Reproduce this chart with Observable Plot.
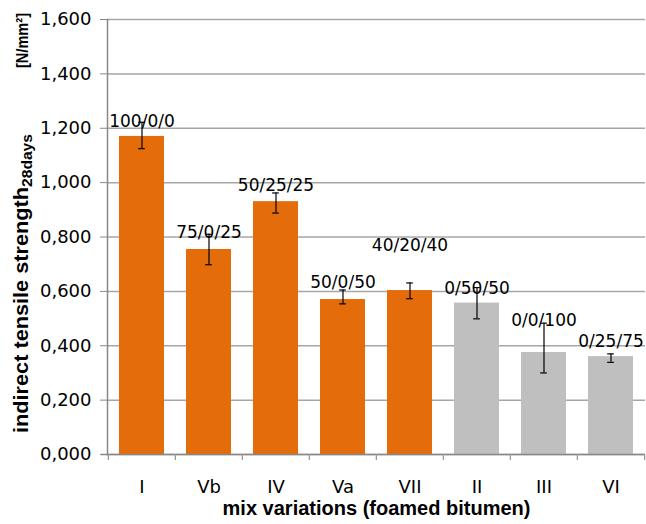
<!DOCTYPE html>
<html><head><meta charset="utf-8">
<script src="https://cdn.jsdelivr.net/npm/d3@7"></script>
<script src="https://cdn.jsdelivr.net/npm/@observablehq/plot@0.6"></script>
<style>body{margin:0;background:#fff} #chart{width:646px;height:524px}</style>
</head><body><div id="chart"></div>
<script>
const categories = ["I","Vb","IV","Va","VII","II","III","VI"];
const strength = [1.170,0.754,0.930,0.570,0.603,0.557,0.375,0.360];
const errLow  = [1.125,0.698,0.888,0.554,0.573,0.499,0.300,0.339];
const errHigh = [1.222,0.810,0.962,0.605,0.631,0.614,0.483,0.370];
const mixLabels = ["100/0/0","75/0/25","50/25/25","50/0/50","40/20/40","0/50/50","0/0/100","0/25/75"];
const labelY = [1.225,0.817,0.991,0.633,0.769,0.612,0.494,0.416];
const group = ["with","with","with","with","with","without","without","without"];
const yTicks = [0,0.2,0.4,0.6,0.8,1.0,1.2,1.4,1.6];
const xTitle = "mix variations (foamed bitumen)";

const rows = categories.map((c,i)=>({cat:c, value:strength[i], lo:errLow[i], hi:errHigh[i], label:mixLabels[i], ly:labelY[i], g:group[i]}));

const W = 646, H = 524, ML = 107, MR = 1, MT = 19, MB = 70;
const padIn = 0.326, padOut = padIn/2;
const step = (W - ML - MR) / categories.length;
const bw = step * (1 - padIn);
const capInset = (bw - 7) / 2;
const fmt = d => d3.format(".3f")(d).replace(".", ",");

const chart = Plot.plot({
  width: W, height: H, marginLeft: ML, marginRight: MR, marginTop: MT, marginBottom: MB,
  style: {fontFamily: "DejaVu Sans", fontSize: "17px", background: "white", color: "black"},
  x: {domain: categories, paddingInner: padIn, paddingOuter: padOut},
  y: {domain: [0, 1.6]},
  color: {domain: ["with","without"], range: ["#E46C0A","#BFBFBF"]},
  marks: [
    Plot.gridY(yTicks, {stroke: "#a6a6a6", strokeOpacity: 1, strokeWidth: 1.5}),
    Plot.barY(rows, {x: "cat", y: "value", fill: "g"}),
    Plot.ruleX(rows, {x: "cat", y1: "lo", y2: "hi", stroke: "black", strokeWidth: 1.2}),
    Plot.tickY(rows, {x: "cat", y: "lo", stroke: "black", strokeWidth: 1.2, insetLeft: capInset, insetRight: capInset}),
    Plot.tickY(rows, {x: "cat", y: "hi", stroke: "black", strokeWidth: 1.2, insetLeft: capInset, insetRight: capInset}),
    Plot.text(rows, {x: "cat", y: "ly", text: "label", fontSize: 17, fill: "black"}),
    Plot.axisY({ticks: yTicks, tickFormat: fmt, tickSize: 7, tickPadding: 9, fontSize: 18, stroke: "#888", fill: "black", label: null}),
    Plot.axisX({tickSize: 0, tickPadding: 26, fontSize: 18, fill: "black", label: null}),
    Plot.ruleY([0], {stroke: "#888", strokeWidth: 1.5, insetLeft: -6}),
    Plot.ruleX(categories, {x: d => d, y1: () => 0, y2: () => 0, dx: -step/2, insetBottom: -6, stroke: "#999", strokeWidth: 1.3}),
    Plot.ruleX(categories.slice(-1), {x: d => d, y1: () => 0, y2: () => 0, dx: step/2, insetBottom: -6, stroke: "#999", strokeWidth: 1.3}),
    Plot.frame({anchor: "left", stroke: "#888", strokeWidth: 1.5}),
    Plot.text([xTitle], {frameAnchor: "bottom", dy: 60, fontWeight: "bold", fontSize: 20, fontFamily: "Liberation Sans", fill: "black"})
  ]
});
document.getElementById("chart").appendChild(chart);

// y-axis title with subscript
const t = d3.select(chart).append("text")
  .attr("transform", "rotate(-90)")
  .attr("x", -433).attr("y", 28)
  .style("font-family", "'Liberation Sans', Arial, sans-serif").style("font-weight", "bold")
  .style("font-size", "20px").attr("fill", "black").attr("text-anchor", "start");
t.append("tspan").attr("textLength", 246).attr("lengthAdjust", "spacingAndGlyphs").text("indirect tensile strength");
t.append("tspan").style("font-size", "15px").attr("dy", 4).attr("textLength", 53).attr("lengthAdjust", "spacingAndGlyphs").text("28days");
t.append("tspan").attr("x", -68).attr("dy", -4).style("font-size", "16px").attr("textLength", 55).attr("lengthAdjust", "spacingAndGlyphs").text("[N/mm²]");
</script>
</body></html>
